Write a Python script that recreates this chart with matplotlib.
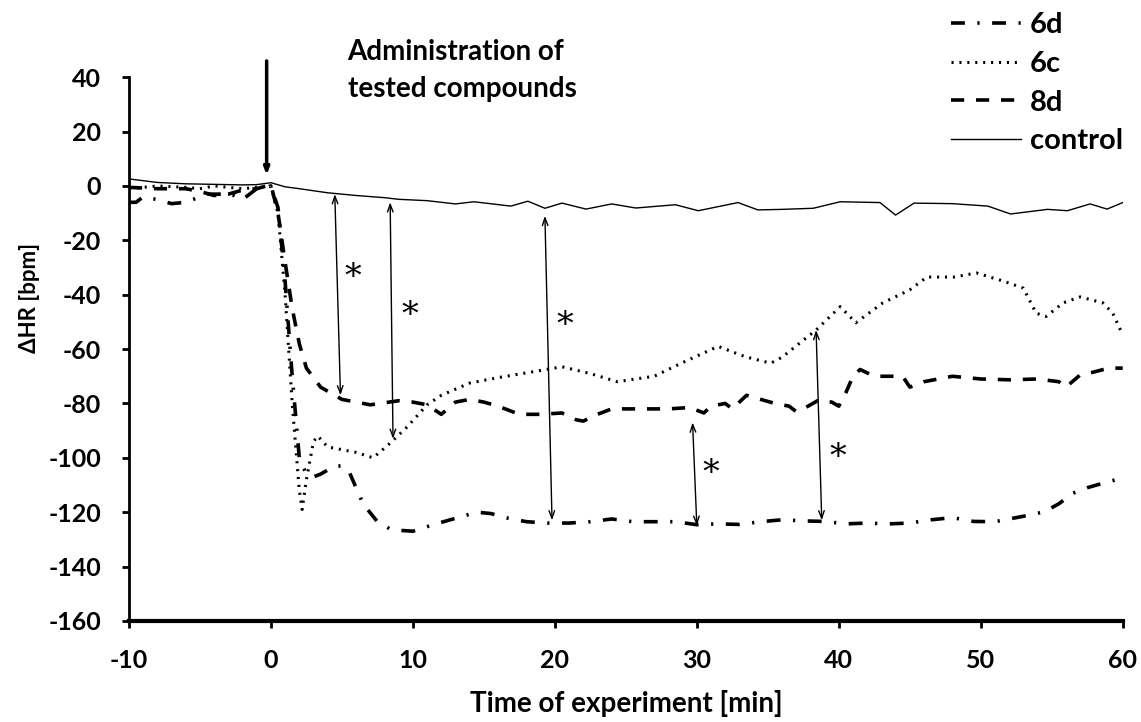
import matplotlib
matplotlib.use('Agg')
import matplotlib.pyplot as plt

plt.rcParams['font.family'] = ['Lato', 'DejaVu Sans']
plt.rcParams['font.weight'] = 'bold'
plt.rcParams['axes.labelweight'] = 'bold'
plt.rcParams['axes.unicode_minus'] = False
plt.rcParams['lines.scale_dashes'] = False

# control (solid)
ctrl_x = [-10, -8, -6, -4, -2, -1, 0, 1, 2, 4, 6, 8, 9, 11, 13, 14.3, 16.9, 18.1, 19.3, 20.5,
          22.2, 24, 25.7, 28.5, 30.1, 32.9, 34.3, 36, 38.2, 40.1, 42.9, 44, 45.3, 48, 50.5,
          52.1, 54.7, 56.1, 57.7, 58.9, 60]
ctrl_y = [2.6, 1.3, 0.8, 0.6, 0.4, 0.5, 1.2, -0.3, -1, -2.5, -3.5, -4.3, -4.9, -5.4, -6.6,
          -5.8, -7.4, -5.6, -8.2, -6.3, -8.5, -6.6, -8.1, -6.9, -9.1, -6.1, -8.8, -8.6, -8.2,
          -5.8, -6.1, -10.7, -6.3, -6.5, -7.4, -10.3, -8.6, -9.1, -6.6, -8.5, -6.1]

# 8d (dashed)
d8_x = [-10, -8, -6, -5, -4, -3, -2, -1, 0, 0.5, 1, 1.5, 2, 2.5, 3.5, 5, 7, 9, 10, 11, 12, 13,
        14, 15, 16, 17.5, 19, 20.5, 21.5, 22, 23, 24, 26, 28, 29.5, 30.5, 31, 32, 32.5, 33.5,
        34.5, 35.5, 36.5, 37, 37.5, 38.5, 39.5, 40, 40.5, 41, 41.5, 42.5, 43.5, 44.5, 45, 46,
        47, 48, 50, 52, 54, 55.5, 56, 57, 58, 59, 60]
d8_y = [-0.5, -1, -1, -2, -3.5, -3, -1.5, -1, 0.5, -10, -28, -45, -58, -67, -74, -78.5, -80.5,
        -79, -79.5, -80.5, -84, -79.5, -78.5, -79.5, -81, -84, -84, -83.5, -86, -86.5, -84,
        -82, -82, -82, -81.5, -83.5, -81, -80, -82, -77, -78.5, -80, -81, -83, -82, -79,
        -79.5, -81, -76, -70, -67.5, -70, -70, -70, -74, -72, -71, -70, -71, -71.3, -71, -72,
        -74, -69.5, -68.4, -67, -67]

# 6c (dotted)
c6_x = [-10, -8, -6, -5, -4, -2, -1, 0, 0.5, 1, 1.5, 2, 2.2, 2.5, 3, 3.3, 4, 5, 6, 7.2, 8.4,
        9.6, 11, 12, 14, 16, 18.5, 20.5, 22.5, 24.4, 27, 28.9, 31.5, 33.4, 35.2, 36, 38.4,
        40.1, 41.2, 43.1, 45, 46.2, 48.1, 49.7, 51.6, 53, 53.9, 54.6, 55.8, 57, 58.6, 59.3, 60]
c6_y = [-1, 0, -0.5, -1, 0, -1, -0.5, 0, -10, -40, -80, -112, -119, -108, -94, -92, -96, -97,
        -98, -100, -94.6, -88.6, -80.5, -77, -72.5, -70.5, -68.3, -66.5, -69, -72, -70, -65.2,
        -59, -62.8, -65.2, -63, -53, -44.4, -50.3, -43, -38.2, -33.5, -33.5, -32, -35, -37.6,
        -46.8, -48, -43, -40.8, -43, -46.8, -54.8]

# 6d (dash-dot)
d6_x = [-10, -9.5, -9, -8, -7, -6, -5, -4.5, -3.5, -3, -2, -1, 0, 0.5, 1, 1.5, 2, 2.5, 3, 3.5,
        4.5, 5, 5.5, 6, 6.5, 7.5, 8.5, 10, 11.5, 12.5, 13.5, 14.5, 15.5, 16.5, 18, 19.5, 21,
        22.5, 24, 25.5, 27, 28.5, 30, 31.5, 33, 34.5, 36, 37.5, 39, 40.5, 42, 43.5, 45, 46.5,
        48, 49.5, 51, 52.5, 53.5, 54.5, 55.5, 56.5, 57.5, 58.5, 60]
d6_y = [-6, -6, -4, -5, -6.5, -6, -4, -3, -3, -2.5, -5, -1, 0, -8, -35, -70, -100, -106, -107,
        -106, -103, -103, -105, -111, -117, -123.5, -126.5, -127, -124.5, -123, -121.5, -120,
        -120.5, -122, -123.5, -124, -124, -123.5, -122.5, -123.5, -123.5, -123.5, -124.6,
        -124.3, -124.5, -123.5, -122.8, -123.2, -123.4, -124.3, -124, -124.3, -124, -122.8,
        -122, -123.4, -123.5, -122, -121, -119.8, -116.9, -113, -111, -109.5, -107.4]

# significance arrows (double headed) and asterisks
arr_x_top = [4.5, 8.4, 19.3, 29.7, 38.4]
arr_x_bot = [4.9, 8.6, 19.8, 30.0, 38.8]
arr_y_top = [-3, -6, -11, -87, -53]
arr_y_bot = [-77, -93, -123, -125, -123]
star_x = [5.8, 9.8, 20.7, 31.0, 39.9]
star_y = [-34, -48, -51.5, -106, -100]

fig = plt.figure(figsize=(11.41, 7.22), dpi=100)
ax = fig.add_axes([0.113, 0.140, 0.871, 0.753])

ax.plot(d6_x, d6_y, color='black', lw=2.6, dashes=(10, 9, 1.6, 9), label='6d')
ax.plot(c6_x, c6_y, color='black', lw=2.2, dashes=(1.5, 4.2), label='6c')
ax.plot(d8_x, d8_y, color='black', lw=2.6, dashes=(9.5, 8.5), label='8d')
ax.plot(ctrl_x, ctrl_y, color='black', lw=1.0, label='control')

for xt, xb, yt, yb in zip(arr_x_top, arr_x_bot, arr_y_top, arr_y_bot):
    ax.annotate('', xy=(xb, yb), xytext=(xt, yt),
                arrowprops=dict(arrowstyle='<->,head_length=0.55,head_width=0.2',
                                lw=1.0, color='black', shrinkA=0, shrinkB=0))
for sx, sy in zip(star_x, star_y):
    ax.text(sx, sy, '*', fontsize=24, fontweight='normal', family='DejaVu Serif',
            ha='center', va='center')

# administration arrow
ax.annotate('', xy=(-0.3, 4), xytext=(-0.3, 46), annotation_clip=False,
            arrowprops=dict(arrowstyle='-|>,head_length=0.4,head_width=0.15',
                            lw=2.5, color='black', shrinkA=0, shrinkB=0))
ax.text(5.4, 42.5, 'Administration of\ntested compounds', fontsize=20, ha='left',
        va='center', linespacing=1.5, clip_on=False)

ax.set_xlim(-10, 60)
ax.set_ylim(-160, 40)
ax.set_xticks(range(-10, 61, 10))
ax.set_yticks(range(-160, 41, 20))
ax.spines['top'].set_visible(False)
ax.spines['right'].set_visible(False)
ax.spines['left'].set_linewidth(2)
ax.spines['bottom'].set_linewidth(3)
ax.tick_params(axis='both', labelsize=18, width=2, length=5, direction='out', pad=15)
ax.set_xlabel('Time of experiment [min]', fontsize=20, va='center')
ax.set_ylabel('ΔHR [bpm]', fontsize=16, va='center')
ax.xaxis.set_label_coords(0.5, -0.152)
ax.yaxis.set_label_coords(-0.0996, 0.594)

leg = ax.legend(loc='upper left', bbox_to_anchor=(948 / 1141, 1 - 9 / 722),
                bbox_transform=fig.transFigure, frameon=False, fontsize=21,
                borderaxespad=0, borderpad=0.1, handlelength=2.4, handletextpad=0.3,
                labelspacing=0.44)

fig.savefig('out.png', dpi=100)
